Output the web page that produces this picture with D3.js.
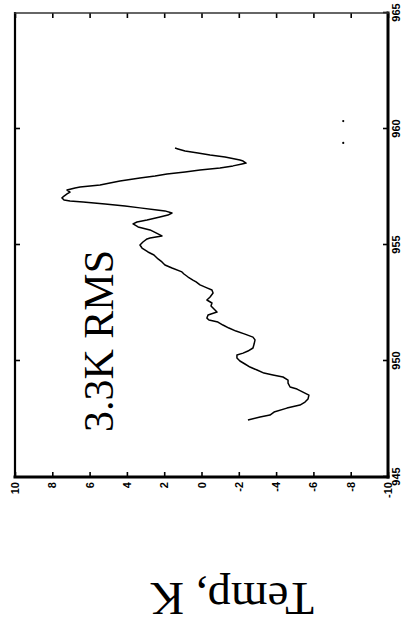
<!DOCTYPE html>
<html><head><meta charset="utf-8">
<script src="https://cdn.jsdelivr.net/npm/d3@7"></script>
<style>body{margin:0;background:#fff}</style>
</head><body>
<svg id="c" width="407" height="632" style="display:block;background:#fff"></svg>
<script>
const wavelength = [947.46,947.59,947.67,947.80,947.97,948.10,948.23,948.36,948.53,948.66,948.79,948.88,949.05,949.18,949.31,949.40,949.48,949.61,949.74,949.87,950.00,950.13,950.26,950.34,950.43,950.56,950.73,950.91,951.03,951.16,951.29,951.42,951.55,951.68,951.77,951.85,951.98,952.11,952.24,952.37,952.50,952.63,952.76,952.93,953.06,953.15,953.28,953.41,953.49,953.62,953.75,953.84,954.01,954.14,954.27,954.40,954.57,954.70,954.87,955.00,955.13,955.26,955.30,955.39,955.52,955.65,955.78,955.91,955.99,956.08,956.21,956.29,956.38,956.47,956.51,956.60,956.68,956.77,956.85,956.90,956.94,957.03,957.11,957.20,957.28,957.37,957.46,957.50,957.59,957.67,957.76,957.89,957.97,958.06,958.15,958.23,958.32,958.41,958.49,958.53,958.62,958.66,958.75,958.79,958.88,958.97,959.05,959.14,959.18];
const temperature = [-2.49,-3.14,-3.67,-3.89,-4.58,-5.28,-5.55,-5.71,-5.76,-5.44,-5.12,-4.75,-4.64,-4.64,-4.37,-3.83,-3.35,-2.98,-2.60,-2.33,-2.06,-1.90,-1.90,-2.23,-2.49,-2.76,-2.82,-2.87,-2.76,-2.33,-1.85,-1.47,-1.15,-0.88,-0.40,-0.29,-0.35,-0.83,-0.67,-0.51,-0.56,-0.29,-0.46,-0.62,-0.56,-0.29,0.08,0.29,0.46,0.72,0.94,1.05,1.58,1.96,2.12,2.33,2.55,2.87,3.19,3.30,3.14,2.92,2.76,2.12,2.44,2.76,3.40,3.67,3.46,2.92,2.23,1.80,1.58,1.96,2.39,3.30,4.10,5.17,6.35,7.05,7.37,7.48,7.37,7.21,7.05,7.21,6.78,6.51,5.44,4.91,4.37,3.30,2.49,1.85,0.88,0.08,-0.99,-1.69,-2.17,-2.39,-2.23,-2.06,-1.53,-1.26,-0.46,0.19,0.88,1.26,1.42];
const dotWavelength = [959.40, 960.34];
const dotTemperature = [-7.6, -7.6];
const tempTicks = [10,8,6,4,2,0,-2,-4,-6,-8,-10];
const waveTicks = [945,950,955,960,965];
const innerWaveTicks = [950,955,960];
const annotation = "3.3K RMS";
const yLabel = "Temp, K";

const W = 464, H = 373;
const svg = d3.select("#c");
const g = svg.append("g").attr("transform", "translate(15,477) rotate(-90)");
const x = d3.scaleLinear().domain([945, 965]).range([0, W]);
const y = d3.scaleLinear().domain([-10, 10]).range([H, 0]);
const fmt = d => String(d);

function styleAxis(sel) {
  sel.select(".domain").remove();
  sel.selectAll(".tick line").attr("stroke", "#000").attr("stroke-width", 1.6);
  sel.selectAll(".tick text")
    .attr("fill", "#000")
    .style("font-family", "'Liberation Sans', Arial, sans-serif")
    .style("font-weight", "bold")
    .style("font-size", "11px");
}

g.append("g").attr("transform", `translate(0,${H})`)
  .call(d3.axisBottom(x).tickValues(waveTicks).tickSizeInner(-5).tickSizeOuter(0).tickPadding(4).tickFormat(fmt))
  .call(styleAxis);
g.append("g")
  .call(d3.axisLeft(y).tickValues(tempTicks).tickSizeInner(-5).tickSizeOuter(0).tickPadding(5).tickFormat(fmt))
  .call(styleAxis);
g.append("g").attr("transform", `translate(${W},0)`)
  .call(d3.axisRight(y).tickValues(tempTicks).tickSizeInner(-5).tickSizeOuter(0).tickFormat(""))
  .call(styleAxis);
g.append("g")
  .call(d3.axisTop(x).tickValues(innerWaveTicks).tickSizeInner(-5).tickSizeOuter(0).tickFormat(""))
  .call(styleAxis);

// frame
const frame = [
  {x1: 0, y1: 0, x2: W, y2: 0, w: 2.2, c: "#000"},
  {x1: 0, y1: H, x2: W, y2: H, w: 3, c: "#000"},
  {x1: 0, y1: 0, x2: 0, y2: H, w: 3, c: "#000"},
  {x1: W, y1: 0, x2: W, y2: H, w: 1.6, c: "#333"}
];
g.selectAll("line.frame").data(frame).enter().append("line").attr("class", "frame")
  .attr("x1", d => d.x1).attr("y1", d => d.y1).attr("x2", d => d.x2).attr("y2", d => d.y2)
  .attr("stroke", d => d.c).attr("stroke-width", d => d.w).attr("stroke-linecap", "square");

// data line
const pts = wavelength.map((w, i) => [w, temperature[i]]);
g.append("path").datum(pts)
  .attr("fill", "none").attr("stroke", "#000").attr("stroke-width", 1.5).attr("stroke-linejoin", "round")
  .attr("d", d3.line().x(d => x(d[0])).y(d => y(d[1])));

g.selectAll("circle.dot").data(dotWavelength.map((w, i) => [w, dotTemperature[i]])).enter()
  .append("circle").attr("class", "dot")
  .attr("cx", d => x(d[0])).attr("cy", d => y(d[1])).attr("r", 1.1).attr("fill", "#000");

// annotation
g.append("text").attr("x", x(946.94)).attr("y", y(4.75))
  .style("font-family", "'Liberation Serif', 'Times New Roman', serif")
  .style("font-size", "42px").attr("fill", "#000").text(annotation);

// y label
g.append("text").attr("transform", "translate(-106,217) rotate(-90)")
  .attr("text-anchor", "middle")
  .style("font-family", "'Liberation Serif', 'Times New Roman', serif")
  .style("font-size", "47px").attr("fill", "#000").text(yLabel);
</script>
</body></html>
